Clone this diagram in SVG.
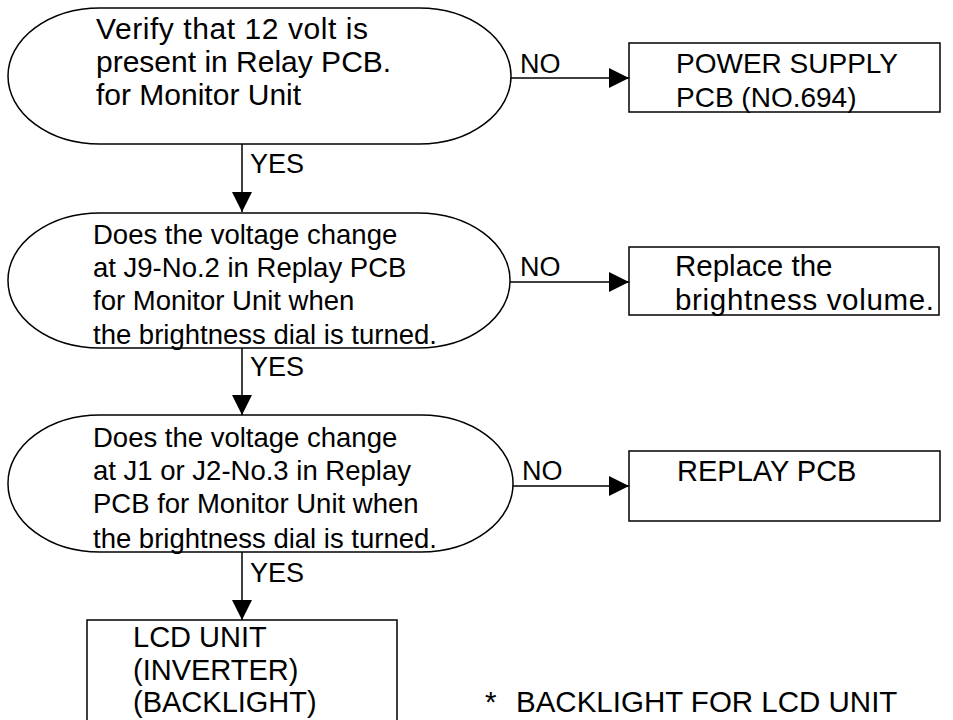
<svg xmlns="http://www.w3.org/2000/svg" width="953" height="720" viewBox="0 0 953 720">
<defs>
<marker id="ah" markerUnits="userSpaceOnUse" markerWidth="20" markerHeight="20" refX="20" refY="10" orient="auto">
<path d="M0,0 L20,10 L0,20 Z" fill="#000"/>
</marker>
<style>
.sh{fill:#fff;stroke:#000;stroke-width:1.5}
.t{font-family:"Liberation Sans",Arial,sans-serif;fill:#000}
.o1{font-size:30px}
.o2{font-size:27.5px}
.b{font-size:28px}
.l{font-size:27px}
.c{fill:none;stroke:#000;stroke-width:1.5;marker-end:url(#ah)}
</style>
</defs>
<rect width="953" height="720" fill="#fff"/>
<g id="connectors">
<line class="c" x1="242" y1="144" x2="242" y2="212"/>
<line class="c" x1="242" y1="348" x2="242" y2="415"/>
<line class="c" x1="242" y1="552" x2="242" y2="620"/>
<line class="c" x1="511" y1="78" x2="629" y2="78"/>
<line class="c" x1="510" y1="282" x2="629" y2="282"/>
<line class="c" x1="513" y1="486" x2="629" y2="486"/>
<text class="t l" x="250" y="173">YES</text>
<text class="t l" x="250" y="376">YES</text>
<text class="t l" x="250" y="582">YES</text>
<text class="t l" x="520" y="73">NO</text>
<text class="t l" x="520" y="276">NO</text>
<text class="t l" x="522" y="480">NO</text>
</g>
<g id="q1">
<rect class="sh" x="8" y="8" width="503" height="136" rx="92" ry="68"/>
<text class="t o1" x="96" y="39" textLength="272">Verify that 12 volt is</text>
<text class="t o1" x="96" y="72">present in Relay PCB.</text>
<text class="t o1" x="96" y="105">for Monitor Unit</text>
</g>
<g id="q2">
<rect class="sh" x="8" y="213" width="502" height="135" rx="92" ry="67"/>
<text class="t o2" x="93" y="244">Does the voltage change</text>
<text class="t o2" x="93" y="277">at J9-No.2 in Replay PCB</text>
<text class="t o2" x="93" y="310">for Monitor Unit when</text>
<text class="t o2" x="93" y="344">the brightness dial is turned.</text>
</g>
<g id="q3">
<rect class="sh" x="8" y="415" width="505" height="137" rx="92" ry="68"/>
<text class="t o2" x="93" y="447">Does the voltage change</text>
<text class="t o2" x="93" y="480">at J1 or J2-No.3 in Replay</text>
<text class="t o2" x="93" y="513">PCB for Monitor Unit when</text>
<text class="t o2" x="93" y="548">the brightness dial is turned.</text>
</g>
<g id="r1">
<rect class="sh" x="629" y="43" width="311" height="69"/>
<text class="t b" x="676" y="73">POWER SUPPLY</text>
<text class="t b" x="676" y="107">PCB (NO.694)</text>
</g>
<g id="r2">
<rect class="sh" x="629" y="247" width="310" height="68"/>
<text class="t" font-size="29.5" x="675" y="276">Replace the</text>
<text class="t" font-size="29.5" x="675" y="310" textLength="259">brightness volume.</text>
</g>
<g id="r3">
<rect class="sh" x="629" y="451" width="311" height="70"/>
<text class="t" font-size="29" x="677" y="481">REPLAY PCB</text>
</g>
<g id="lcd">
<rect class="sh" x="87" y="620" width="310" height="130"/>
<text class="t" font-size="29" x="133" y="647">LCD UNIT</text>
<text class="t" font-size="29" x="133" y="680">(INVERTER)</text>
<text class="t" font-size="29" x="133" y="712">(BACKLIGHT)</text>
</g>
<g id="note">
<text class="t" font-size="29.5" x="485" y="712">*</text>
<text class="t" font-size="29.5" x="516" y="712">BACKLIGHT FOR LCD UNIT</text>
</g>
</svg>
